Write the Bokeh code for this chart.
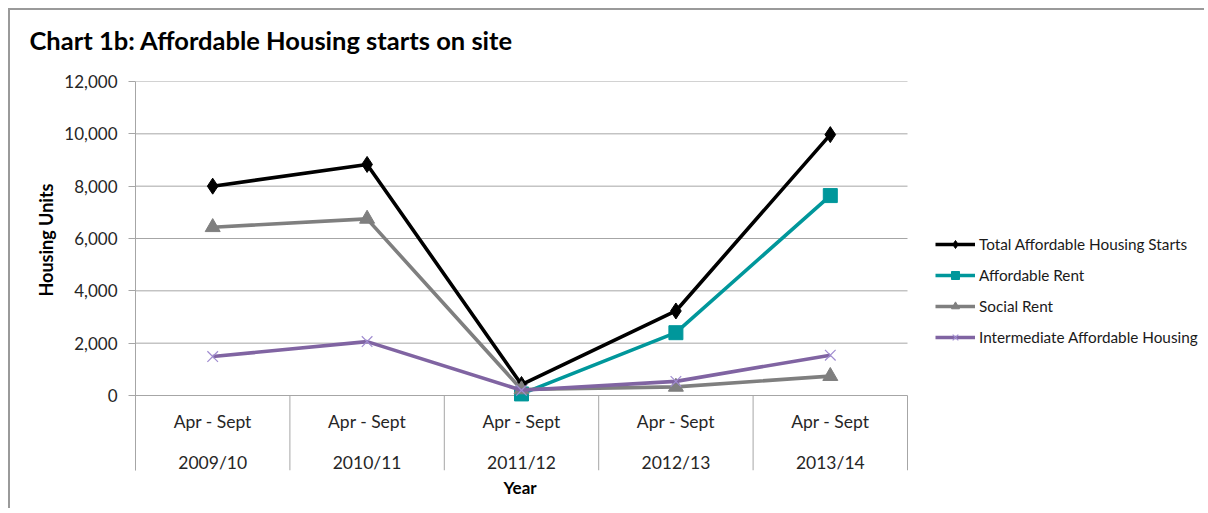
import math
from bokeh.plotting import figure
from bokeh.models import (Range1d, FixedTicker, NumeralTickFormatter, Legend,
                          LegendItem, Title)
from bokeh.core.properties import value
from bokeh.embed import file_html
from bokeh.resources import INLINE

# ---- data ----
periods = ["2009/10", "2010/11", "2011/12", "2012/13", "2013/14"]
sub_label = "Apr - Sept"
total_starts = [8000, 8830, 420, 3230, 9970]
affordable_rent = [math.nan, math.nan, 60, 2400, 7640]
social_rent = [6430, 6750, 230, 330, 740]
intermediate = [1490, 2060, 200, 540, 1540]
y_ticks = [0, 2000, 4000, 6000, 8000, 10000, 12000]

series_names = ["Total Affordable Housing Starts", "Affordable Rent",
                "Social Rent", "Intermediate Affordable Housing"]

FONT = "Lato"
GRID = "#a6a6a6"
TXT = "#262626"

n = len(periods)
xs = [i + 0.5 for i in range(n)]
bounds = list(range(n + 1))

# layout (pixels)
FIG_W, FIG_H = 1196, 500
LEFT, TOP, BOTTOM = 125, 71, 40
PLOT_W, PLOT_H, BAND = 772, 314, 75      # category area width, value area height, label band
FRAME_W = FIG_W - LEFT

Y_MAX = 12000
band_units = Y_MAX * BAND / PLOT_H
x_end = n * FRAME_W / PLOT_W

p = figure(width=FIG_W, height=FIG_H,
           x_range=Range1d(0, x_end), y_range=Range1d(-band_units, Y_MAX),
           output_backend="svg", toolbar_location=None,
           min_border_left=LEFT, min_border_right=0,
           min_border_top=TOP, min_border_bottom=BOTTOM)
p.outline_line_color = None
p.background_fill_color = "white"
p.border_fill_color = "white"
p.styles = {"margin-left": "8px", "margin-top": "8px",
            "border-top": "2px solid #9a9a9a", "border-left": "2px solid #9a9a9a"}

# title (with a small spacer between it and the plot area)
p.title.visible = False
spacer = Title(text=" ", standoff=8, text_font_size="1px")
p.add_layout(spacer, "above")
t = Title(text="Chart 1b: Affordable Housing starts on site", align="left",
          offset=-106, standoff=28, vertical_align="top", text_font=FONT,
          text_font_size="25.5px", text_font_style="bold", text_color="#000000")
p.add_layout(t, "above")

# grid lines (only across the category area)
p.xgrid.visible = False
p.ygrid.visible = False
p.segment(x0=[0] * len(y_ticks), y0=y_ticks, x1=[n] * len(y_ticks), y1=y_ticks,
          line_color=GRID, line_width=1)

# y axis
ya = p.yaxis[0]
ya.ticker = FixedTicker(ticks=y_ticks)
ya.formatter = NumeralTickFormatter(format="0,0")
ya.axis_line_color = GRID
ya.major_tick_line_color = GRID
ya.major_tick_out = 7
ya.major_tick_in = 0
ya.minor_tick_line_color = None
ya.major_label_standoff = 11
ya.major_label_text_font = FONT
ya.major_label_text_font_size = "17px"
ya.major_label_text_color = TXT

ytitle = Title(text="Housing Units", align="right", offset=102, standoff=10,
               vertical_align="bottom", text_font=FONT, text_font_size="18px",
               text_font_style="bold", text_color="#000000")
p.add_layout(ytitle, "left")

# x axis hidden; "Year" title below
p.xaxis.visible = False
xtitle = Title(text="Year", align="left", offset=368, standoff=12,
               vertical_align="top", text_font=FONT, text_font_size="17px",
               text_font_style="bold", text_color="#000000")
p.add_layout(xtitle, "below")

# category separators in the label band
p.segment(x0=bounds, y0=[-band_units] * len(bounds), x1=bounds, y1=[0] * len(bounds),
          line_color=GRID, line_width=1)

# category labels (two rows)
p.text(x=xs, y=[0] * n, text=[sub_label] * n, y_offset=26,
       text_font=value(FONT), text_font_size="17.5px", text_color=TXT,
       text_align="center", text_baseline="middle")
p.text(x=xs, y=[0] * n, text=periods, y_offset=67,
       text_font=value(FONT), text_font_size="17.5px", text_color=TXT,
       text_align="center", text_baseline="middle")

# series
specs = [
    (total_starts, "#000000", "diamond", 16, "#000000"),
    (affordable_rent, "#00979b", "square", 14, "#00979b"),
    (social_rent, "#7f7f7f", "triangle", 15, "#7f7f7f"),
    (intermediate, "#8064a2", "x", 15, "#a08cd0"),
]
items = []
for (vals, col, mk, sz, mcol), name in zip(specs, series_names):
    ln = p.line(xs, vals, line_color=col, line_width=3.6)
    if mk == "x":
        sc = p.scatter(xs, vals, marker=mk, size=sz, line_color=mcol, line_width=1.2)
    else:
        sc = p.scatter(xs, vals, marker=mk, size=sz, fill_color=mcol, line_color=mcol)
    items.append(LegendItem(label=name, renderers=[ln, sc]))

legend = Legend(items=items, location=(PLOT_W + 28, 123), orientation="vertical",
                glyph_width=40, glyph_height=20, spacing=11, padding=0, margin=0,
                label_standoff=4, label_text_font=FONT, label_text_font_size="15.3px",
                label_text_color="#1a1a1a", background_fill_alpha=0,
                border_line_color=None)
p.add_layout(legend)

open("out.html", "w").write(file_html(p, INLINE))
